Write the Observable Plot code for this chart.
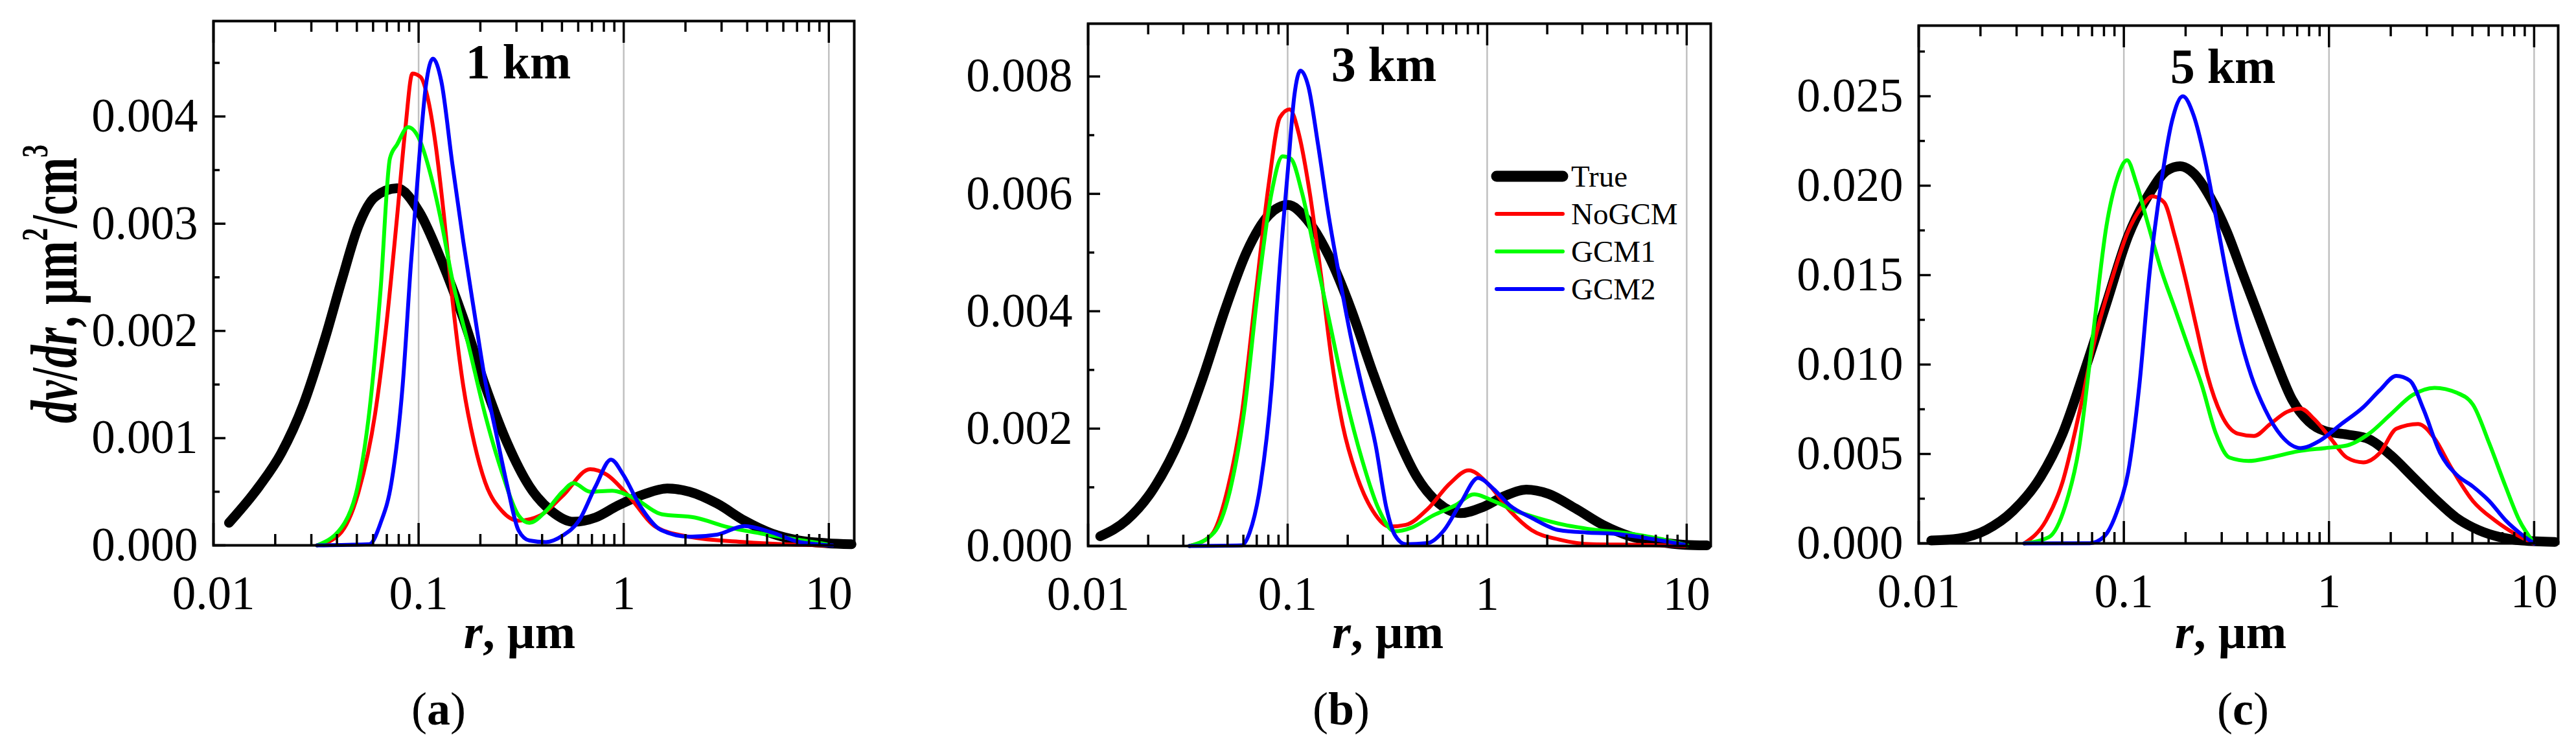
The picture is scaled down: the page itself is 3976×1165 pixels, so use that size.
<!DOCTYPE html>
<html><head><meta charset="utf-8">
<script src="https://cdn.jsdelivr.net/npm/d3@7"></script>
<script src="https://cdn.jsdelivr.net/npm/@observablehq/plot@0.6"></script>
<style>
html,body{margin:0;padding:0;background:#fff;}
#root{position:relative;width:3976px;height:1165px;overflow:hidden;background:#fff;}
#root svg{position:absolute;top:0;overflow:visible;}
</style></head><body><div id="root"></div>
<script>
// ---------- labels, categories, ticks ----------
const seriesNames = ["True", "NoGCM", "GCM1", "GCM2"];
const seriesColors = ["#000000", "#ff0000", "#00ff00", "#0000ff"];
const panelTitles = ["1 km", "3 km", "5 km"];
const panelLetters = ["a", "b", "c"];
const xTickValues = [0.01, 0.1, 1, 10];
const gridValues = [0.1, 1, 10];
const xMinorValues = [0.02,0.03,0.04,0.05,0.06,0.07,0.08,0.09,0.2,0.3,0.4,0.5,0.6,0.7,0.8,0.9,2,3,4,5,6,7,8,9];
const yTicksA = [0, 0.001, 0.002, 0.003, 0.004];
const yMinorA = [0.0005, 0.0015, 0.0025, 0.0035, 0.0045];
const yTicksB = [0, 0.002, 0.004, 0.006, 0.008];
const yMinorB = [0.001, 0.003, 0.005, 0.007];
const yTicksC = [0, 0.005, 0.010, 0.015, 0.020, 0.025];
const yMinorC = [0.0025, 0.0075, 0.0125, 0.0175, 0.0225, 0.0275];

// ---------- data: [r (µm), dv/dr] ----------
const aTrue = [[0.0119,0.00021],[0.0167,0.00055],[0.0214,0.00086],[0.0274,0.00131],[0.0351,0.00194],[0.0423,0.00248],[0.0509,0.00298],[0.0613,0.00325],[0.0786,0.00333],[0.1007,0.00311],[0.129,0.00266],[0.165,0.00212],[0.211,0.00149],[0.271,0.00095],[0.347,0.00055],[0.444,0.00032],[0.569,0.00022],[0.729,0.00026],[0.934,0.00037],[1.27,0.00048],[1.63,0.00053],[2.09,0.0005],[2.85,0.00039],[3.88,0.00023],[5.28,0.00011],[7.21,0.000045],[9.8,0.00002],[12.9,0.00001]];
const aNoGCM = [[0.032,0],[0.041,0.0001],[0.051,0.0005],[0.0613,0.00122],[0.0694,0.00203],[0.0786,0.00307],[0.0861,0.00388],[0.0933,0.0044],[0.102,0.00437],[0.110,0.0042],[0.121,0.00374],[0.133,0.00307],[0.146,0.0023],[0.165,0.00149],[0.187,0.00095],[0.211,0.00059],[0.255,0.00032],[0.307,0.00023],[0.393,0.00028],[0.503,0.00046],[0.686,0.00071],[0.826,0.00066],[1.057,0.00046],[1.44,0.00017],[2.09,0.00008],[3.88,0.00003],[5.98,0.00001],[9.8,0]];
const aGCM1 = [[0.032,0],[0.0436,0.00021],[0.051,0.00059],[0.0577,0.00127],[0.0653,0.00239],[0.0725,0.00361],[0.0786,0.00374],[0.0889,0.0039],[0.1007,0.00379],[0.114,0.00347],[0.129,0.00302],[0.146,0.00248],[0.176,0.00185],[0.211,0.00122],[0.255,0.00068],[0.307,0.00028],[0.347,0.00021],[0.418,0.00032],[0.503,0.0005],[0.569,0.00058],[0.686,0.0005],[0.879,0.00051],[1.125,0.00044],[1.53,0.00029],[2.22,0.00026],[3.22,0.00017],[4.67,0.00011],[7.21,0.00005],[9.8,0.00001]];
const aGCM2 = [[0.032,0],[0.0575,0.00001],[0.0653,0.00021],[0.0738,0.00059],[0.0836,0.00149],[0.0917,0.00262],[0.1007,0.00361],[0.1084,0.00428],[0.1175,0.00454],[0.129,0.00433],[0.146,0.00356],[0.165,0.00284],[0.187,0.00217],[0.211,0.00154],[0.239,0.00104],[0.271,0.00055],[0.307,0.00014],[0.347,0.000045],[0.418,0.00003],[0.503,0.00009],[0.605,0.00023],[0.729,0.00055],[0.867,0.0008],[0.994,0.00066],[1.2,0.00037],[1.53,0.00014],[2.09,0.00008],[2.85,0.0001],[3.88,0.00018],[5.28,0.00012],[7.21,0.00003],[10.4,0]];

const bTrue = [[0.0115,0.000165],[0.0156,0.00044],[0.0213,0.00098],[0.0293,0.00188],[0.0377,0.00288],[0.0486,0.00403],[0.0625,0.00502],[0.0805,0.00564],[0.1004,0.00581],[0.125,0.00556],[0.161,0.00494],[0.208,0.00403],[0.267,0.00296],[0.344,0.00197],[0.444,0.00118],[0.571,0.00073],[0.736,0.00056],[0.947,0.00066],[1.22,0.00085],[1.57,0.00096],[2.02,0.00089],[2.77,0.00064],[3.8,0.00036],[5.22,0.000165],[7.16,0.00007],[9.8,0.00002],[12.6,0.00001]];
const bNoGCM = [[0.0322,0],[0.0415,0.00019],[0.0501,0.00098],[0.0587,0.00221],[0.0687,0.0042],[0.0805,0.00618],[0.0914,0.0073],[0.1023,0.00744],[0.114,0.00701],[0.129,0.00602],[0.147,0.00461],[0.167,0.00312],[0.189,0.00205],[0.221,0.00122],[0.267,0.0006],[0.324,0.00033],[0.391,0.00036],[0.503,0.00063],[0.648,0.00106],[0.809,0.00129],[1.01,0.00106],[1.3,0.0006],[1.67,0.00027],[2.3,0.00011],[3.35,0.00003],[5.92,0.00002],[9.8,0]];
const bGCM1 = [[0.0322,0],[0.0428,0.00023],[0.0517,0.00098],[0.0606,0.0023],[0.071,0.00436],[0.0831,0.00602],[0.0943,0.00664],[0.1037,0.0066],[0.118,0.00602],[0.138,0.00494],[0.161,0.00387],[0.195,0.00255],[0.236,0.00147],[0.285,0.00064],[0.344,0.00025],[0.417,0.00031],[0.536,0.00052],[0.69,0.00069],[0.861,0.00088],[1.07,0.00077],[1.38,0.0006],[1.78,0.00048],[2.44,0.00036],[3.57,0.00027],[5.22,0.00021],[7.16,0.00013],[10.1,0.00001]];
const bGCM2 = [[0.0322,0],[0.0587,0.00001],[0.0645,0.00023],[0.0732,0.00106],[0.0831,0.00271],[0.0914,0.00478],[0.1004,0.00643],[0.108,0.00767],[0.116,0.0081],[0.127,0.00783],[0.142,0.00684],[0.161,0.0056],[0.183,0.00453],[0.208,0.00354],[0.236,0.00271],[0.276,0.00172],[0.313,0.00064],[0.344,0.00019],[0.391,0.00003],[0.503,0.00005],[0.608,0.00027],[0.736,0.00073],[0.9,0.00116],[1.07,0.00098],[1.3,0.00069],[1.67,0.00048],[2.3,0.00027],[3.15,0.00023],[4.32,0.00021],[5.92,0.00015],[8.13,0.00007],[9.8,0.00002]];

const cTrue = [[0.0115,0.00016],[0.0157,0.00027],[0.0213,0.00075],[0.0289,0.00183],[0.0393,0.00372],[0.0503,0.00614],[0.0643,0.00964],[0.0822,0.01342],[0.105,0.01719],[0.134,0.01961],[0.161,0.02082],[0.188,0.02109],[0.219,0.02069],[0.264,0.01934],[0.317,0.01746],[0.381,0.01503],[0.458,0.01261],[0.551,0.01018],[0.662,0.00803],[0.796,0.00682],[0.957,0.00628],[1.22,0.00609],[1.57,0.00582],[2.0,0.00493],[2.56,0.00372],[3.27,0.00251],[4.18,0.00143],[5.35,0.00075],[6.84,0.00035],[8.73,0.00016],[12.6,0.00008]];
const cNoGCM = [[0.0327,0],[0.0418,0.00129],[0.0503,0.00345],[0.0604,0.00722],[0.0727,0.01153],[0.0874,0.01476],[0.105,0.01746],[0.122,0.0188],[0.138,0.0194],[0.157,0.01907],[0.177,0.01719],[0.2,0.01476],[0.226,0.01207],[0.256,0.00937],[0.298,0.00722],[0.359,0.00614],[0.431,0.00601],[0.518,0.00668],[0.623,0.00735],[0.727,0.00754],[0.847,0.00695],[1.019,0.00587],[1.22,0.0048],[1.47,0.00453],[1.77,0.00506],[2.13,0.00641],[2.72,0.00668],[3.27,0.00587],[3.93,0.00426],[5.03,0.00237],[6.43,0.00129],[8.22,0.00048],[9.9,0]];
const cGCM1 = [[0.0327,0],[0.0431,0.00035],[0.0518,0.0021],[0.0604,0.00533],[0.0705,0.01153],[0.0822,0.01773],[0.0929,0.02042],[0.1037,0.02142],[0.115,0.02015],[0.130,0.018],[0.152,0.0153],[0.177,0.01315],[0.206,0.01099],[0.24,0.00884],[0.281,0.00614],[0.327,0.0048],[0.405,0.00461],[0.518,0.0048],[0.705,0.00515],[0.957,0.00533],[1.22,0.00547],[1.57,0.00614],[2.0,0.00722],[2.56,0.0083],[3.27,0.0087],[4.18,0.00843],[5.03,0.00776],[6.04,0.0056],[7.26,0.00318],[8.47,0.00129],[9.9,0.00008]];
const cGCM2 = [[0.0327,0],[0.0683,0.00001],[0.0796,0.00035],[0.0929,0.00183],[0.105,0.00399],[0.119,0.00884],[0.134,0.0153],[0.152,0.02015],[0.172,0.02365],[0.194,0.025],[0.219,0.02392],[0.248,0.0215],[0.281,0.01827],[0.317,0.01503],[0.359,0.01207],[0.418,0.00937],[0.488,0.00749],[0.586,0.00601],[0.727,0.00533],[0.901,0.00574],[1.15,0.00668],[1.47,0.00762],[1.77,0.00857],[2.13,0.00937],[2.48,0.0091],[2.89,0.00749],[3.48,0.00506],[4.18,0.00385],[5.03,0.00318],[6.04,0.00237],[7.26,0.00129],[8.73,0.00048],[10,0]];

// ---------- layout ----------
const FONT = '"Liberation Serif","Times New Roman",serif';
const H = 1165;
const panels = [
  {left:0, width:1330, ml:329, mr:12, mt:32, mb:324, xMax:13.3, yMax:0.00489, yTicks:yTicksA, yMinor:yMinorA, series:[aTrue,aNoGCM,aGCM1,aGCM2], xLabelX:802, letterX:677},
  {left:1330, width:1330, ml:349, mr:20, mt:36, mb:323, xMax:13.2, yMax:0.0089, yTicks:yTicksB, yMinor:yMinorB, series:[bTrue,bNoGCM,bGCM1,bGCM2], xLabelX:2142, letterX:2070},
  {left:2660, width:1316, ml:301, mr:28, mt:39, mb:327, xMax:13.1, yMax:0.02895, yTicks:yTicksC, yMinor:yMinorC, series:[cTrue,cNoGCM,cGCM1,cGCM2], xLabelX:3443, letterX:3462}
];
const lineWidths = [15, 6, 6, 6];
const root = document.getElementById("root");
const tickStyle = {stroke:"black", strokeWidth:3.5};

panels.forEach((p, pi) => {
  const fw = p.width - p.ml - p.mr;
  const fh = H - p.mt - p.mb;
  const marks = [
    Plot.ruleX(gridValues, {stroke:"#c0c0c0", strokeWidth:2.5}),
    ...p.series.map((s, i) => Plot.line(s, {
      x: d => d[0], y: d => d[1], stroke: seriesColors[i], strokeWidth: lineWidths[i],
      curve: "monotone-x", strokeLinejoin: "round", strokeLinecap: "round"
    })),
    Plot.ruleX(xTickValues, {...tickStyle, insetTop: fh - 34}),
    Plot.ruleX(xTickValues, {...tickStyle, insetBottom: fh - 34}),
    Plot.ruleX(xMinorValues, {...tickStyle, insetTop: fh - 17}),
    Plot.ruleX(xMinorValues, {...tickStyle, insetBottom: fh - 17}),
    Plot.ruleY(p.yTicks, {...tickStyle, insetRight: fw - 19}),
    Plot.ruleY(p.yMinor, {...tickStyle, insetRight: fw - 10}),
    Plot.frame({stroke:"black", strokeWidth:4}),
    Plot.axisX({ticks: xTickValues, tickFormat: d3.format("~g"), tickSize: 0, tickPadding: 47, label: null}),
    Plot.axisY({ticks: p.yTicks, tickFormat: d3.format(".3f"), tickSize: 0, tickPadding: 24, label: null}),
    Plot.text([panelTitles[pi]], {text: d => d, frameAnchor: "top", lineAnchor: "middle", dx: -24, dy: 64,
      fontSize: 76, fontWeight: "bold", fill: "black"})
  ];
  const svg = Plot.plot({
    width: p.width, height: H,
    marginLeft: p.ml, marginRight: p.mr, marginTop: p.mt, marginBottom: p.mb,
    x: {type: "log", domain: [0.01, p.xMax]},
    y: {domain: [0, p.yMax]},
    style: {fontFamily: FONT, fontSize: "73px", color: "black", background: "transparent", overflow: "visible"},
    marks
  });
  svg.style.left = p.left + "px";
  root.appendChild(svg);
  const s = d3.select(svg);

  // x axis label: r, µm
  const xl = s.append("text").attr("x", p.xLabelX - p.left).attr("y", 1000)
    .attr("text-anchor", "middle").attr("font-family", FONT).attr("font-size", 75)
    .attr("font-weight", "bold").attr("fill", "black");
  xl.append("tspan").attr("font-style", "italic").text("r");
  xl.append("tspan").text(", µm");

  // panel letter (a), (b), (c)
  const pl = s.append("text").attr("x", p.letterX - p.left).attr("y", 1118)
    .attr("text-anchor", "middle").attr("font-family", FONT).attr("font-size", 72).attr("fill", "black");
  pl.append("tspan").text("(");
  pl.append("tspan").attr("font-weight", "bold").text(panelLetters[pi]);
  pl.append("tspan").text(")");

  // y axis label only on first panel
  if (pi === 0) {
    const yl = s.append("text")
      .attr("transform", "translate(118,438) rotate(-90) scale(1,1.45)")
      .attr("text-anchor", "middle").attr("font-family", FONT).attr("font-size", 70)
      .attr("font-weight", "bold").attr("fill", "black");
    yl.append("tspan").attr("font-style", "italic").text("dv");
    yl.append("tspan").text("/");
    yl.append("tspan").attr("font-style", "italic").text("dr");
    yl.append("tspan").text(", µm");
    yl.append("tspan").attr("font-size", 40).attr("dy", -31).text("2");
    yl.append("tspan").attr("dy", 31).text("/cm");
    yl.append("tspan").attr("font-size", 40).attr("dy", -31).text("3");
  }

  // legend in second panel
  if (pi === 1) {
    const lg = s.append("g").attr("text-anchor", "start");
    const rowY = [272, 330, 388, 446];
    seriesNames.forEach((name, i) => {
      lg.append("line").attr("x1", 980).attr("x2", 1082).attr("y1", rowY[i]).attr("y2", rowY[i])
        .attr("stroke", seriesColors[i]).attr("stroke-width", i === 0 ? 17 : 6).attr("stroke-linecap", "round");
      lg.append("text").attr("x", 1095).attr("y", rowY[i] + 16).attr("text-anchor", "start")
        .attr("font-family", FONT).attr("font-size", 47).attr("fill", "black").text(name);
    });
  }
});
</script>
</body></html>
